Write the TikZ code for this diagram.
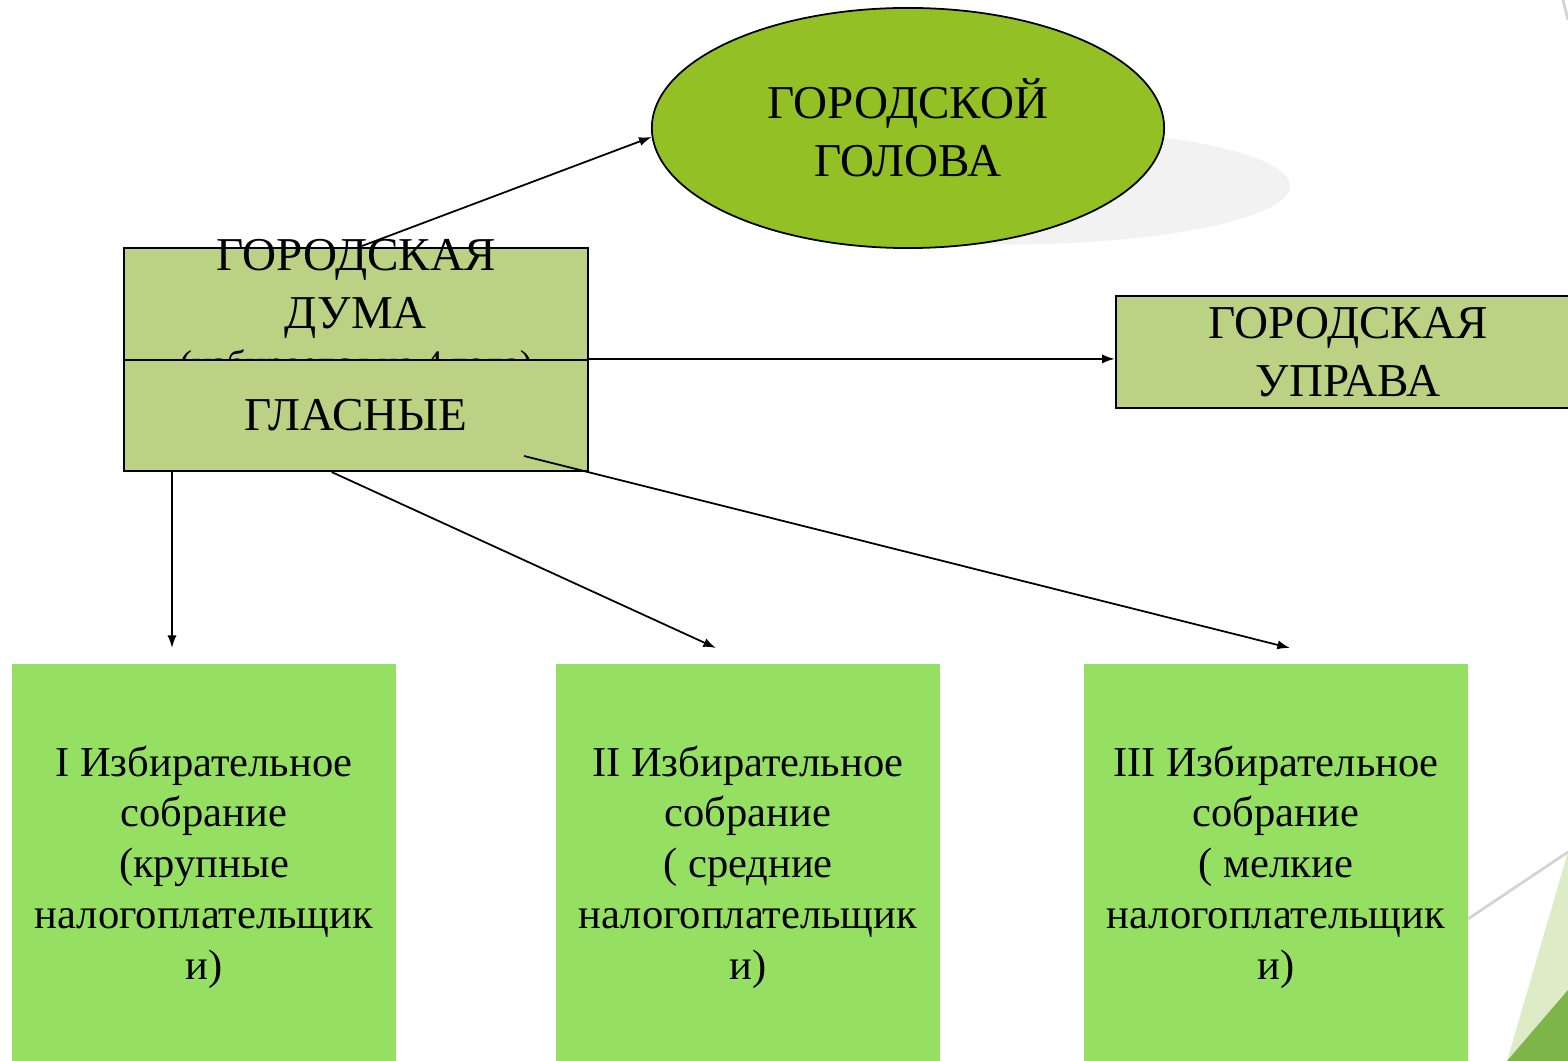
\documentclass[tikz,border=0pt]{standalone}
\usepackage{fontspec}
\setmainfont{Liberation Serif}
\usetikzlibrary{shapes.geometric,arrows,arrows.meta,calc,positioning}
\definecolor{headgreen}{RGB}{147,193,37}
\definecolor{dumagreen}{RGB}{187,210,132}
\definecolor{curiagreen}{RGB}{149,224,99}
\definecolor{cornerlight}{RGB}{221,235,198}
\definecolor{cornerdark}{RGB}{125,181,75}
\definecolor{shadowgrey}{RGB}{242,242,242}
\definecolor{linegrey}{RGB}{212,212,212}
\tikzset{
    block/.style = {draw, rectangle, fill=dumagreen, line width=0.6pt,
        inner sep=0pt, minimum width=4.64cm,
        minimum height=1.12cm, align=center, font=\fontsize{13.4}{16.4}\selectfont},
    ovalnode/.style = {draw, ellipse, fill=headgreen, line width=0.5pt, inner sep=0pt,
        minimum width=5.12cm, minimum height=2.4cm, align=center, font=\fontsize{13.4}{16.4}\selectfont},
    shadownode/.style = {ellipse, fill=shadowgrey, minimum width=5.7cm, minimum height=1.17cm},
    headtext/.style = {align=center, inner sep=0pt, font=\fontsize{13.4}{16.4}\selectfont},
    curia/.style = {rectangle, fill=curiagreen, inner sep=0pt,
        minimum width=3.84cm, minimum height=4.06cm, align=center, font=\fontsize{12.1}{14.45}\selectfont},
    arrow/.style = {draw, ->, line width=0.5pt},
    cornerline/.style = {draw=linegrey, line width=0.8pt}
}
\begin{document}
\begin{tikzpicture}[x=0.01cm, y=-0.01cm, auto, >={Latex[length=3.6pt,width=2.6pt]}]
    \useasboundingbox (0,0) rectangle (1568,1061);
    \clip (0,0) rectangle (1568,1061);
        \fill[cornerlight] (1568,852) -- (1568,1061) -- (1507,1061) -- cycle;
        \fill[cornerdark] (1568,990) -- (1568,1061) -- (1507,1061) -- cycle;
        \draw[cornerline] (1468,919) -- (1568,852);
        \draw[cornerline] (1563,0) -- (1568,20);
        \node [shadownode] (headshadow) at (1005,186) {};
        \node [ovalnode] (head) at (908,128) {ГОРОДСКОЙ\\ГОЛОВА};
        \node [block] (duma) at (356,304) {};
        \node [headtext] (dumatext) at (356,312) {ГОРОДСКАЯ\\ДУМА\\[-2.5pt]{\fontsize{10.65}{12.8}\selectfont(избирается на 4 года)}};
        \coordinate (dumatop) at (362,246);
        \draw[arrow] (dumatop) -- (head.182);
        \node [block, minimum height=1.11cm] (glasnye) at (356,415.5) {ГЛАСНЫЕ};
        \node [block] (uprava) at (1348,352) {ГОРОДСКАЯ\\УПРАВА};
        \draw[arrow] (glasnye.north east) -- (glasnye.north east -| uprava.west);
        \node [curia] (cur1) at (204,867) {I Избирательное\\собрание\\(крупные\\налогоплательщик\\и)};
        \node [curia] (cur2) at (748,867) {II Избирательное\\собрание\\( средние\\налогоплательщик\\и)};
        \node [curia] (cur3) at (1276,867) {III Избирательное\\собрание\\( мелкие\\налогоплательщик\\и)};
        \coordinate (in1) at (172,648);
        \coordinate (in2) at (716,648);
        \coordinate (in3) at (1290,648);
        \coordinate (out3) at (524,456);
        \draw[arrow] (glasnye.south -| in1) -- (in1);
        \draw[arrow] ($(glasnye.south west)!0.448!(glasnye.south east)$) -- (in2);
        \draw[arrow] (out3) -- (in3);
    \end{tikzpicture}
\end{document}
